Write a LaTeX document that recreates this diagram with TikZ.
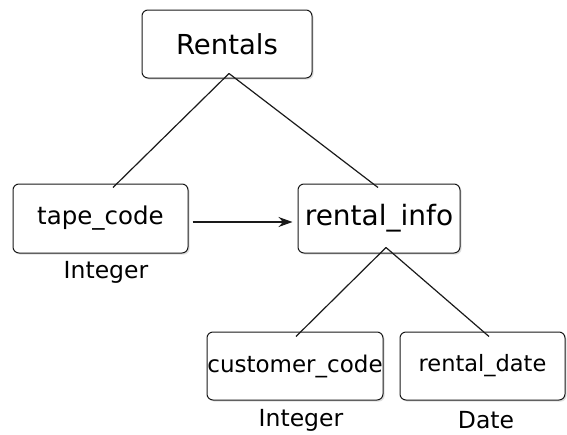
\documentclass[tikz,border=0pt]{standalone}
\usepackage{fontspec}
\setmainfont{DejaVu Sans}
\usetikzlibrary{arrows.meta,positioning,shadows}
\definecolor{edge}{HTML}{1A1A1A}
\tikzset{
  entity/.style={draw=edge,line width=1pt,rounded corners=6pt,fill=white,
    drop shadow={shadow xshift=1.6pt,shadow yshift=-1.6pt,opacity=0.25},
    inner sep=0pt},
  typelabel/.style={font=\fontsize{23.5}{28}\selectfont,inner sep=0pt},
  link/.style={edge,line width=1.2pt},
}
\begin{document}
\begin{tikzpicture}[x=1pt,y=-1pt]
  \useasboundingbox (0,0) rectangle (567,434);

  % root record
  \node[entity,minimum width=170pt,minimum height=68pt,
        font=\fontsize{27.5}{32}\selectfont] (rentals) at (227,44) {Rentals};

  % first level
  \node[entity,minimum width=175pt,minimum height=69pt,
        font=\fontsize{24.5}{29}\selectfont] (tape) at (100.5,218.5) {tape\_code};
  \node[entity,minimum width=162pt,minimum height=69pt,
        font=\fontsize{28}{33}\selectfont] (info) at (379,218.5) {rental\_info};

  % second level
  \node[entity,minimum width=176pt,minimum height=68pt,
        font=\fontsize{23}{27}\selectfont] (customer) at (295,366) {customer\_code};
  \node[entity,minimum width=165pt,minimum height=68pt,
        font=\fontsize{22.5}{27}\selectfont] (rdate) at (482.5,366) {rental\_date};

  % types
  \node[typelabel] (tapetype) at (106,272) {Integer};
  \node[typelabel] (custtype) at (301,420) {Integer};
  \node[typelabel] (datetype) at (486,420) {Date};

  % tree edges
  \coordinate (rfork) at ([xshift=2pt,yshift=5pt]rentals.south);
  \coordinate (tapein) at ([xshift=12.5pt,yshift=-4pt]tape.north);
  \coordinate (infoin) at ([xshift=-1pt,yshift=-4pt]info.north);
  \draw[link] (rfork) -- (tapein);
  \draw[link] (rfork) -- (infoin);

  \coordinate (ifork) at ([xshift=7pt,yshift=6pt]info.south);
  \coordinate (custin) at ([xshift=1pt,yshift=-5pt]customer.north);
  \coordinate (datein) at ([xshift=6.5pt,yshift=-5pt]rdate.north);
  \draw[link] (ifork) -- (custin);
  \draw[link] (ifork) -- (datein);

  % reference
  \draw[link,-{Stealth[length=14pt,width=10pt]},shorten <=4pt,shorten >=5pt]
    ([yshift=-3.5pt]tape.east) -- ([yshift=-3.5pt]info.west);
\end{tikzpicture}
\end{document}
